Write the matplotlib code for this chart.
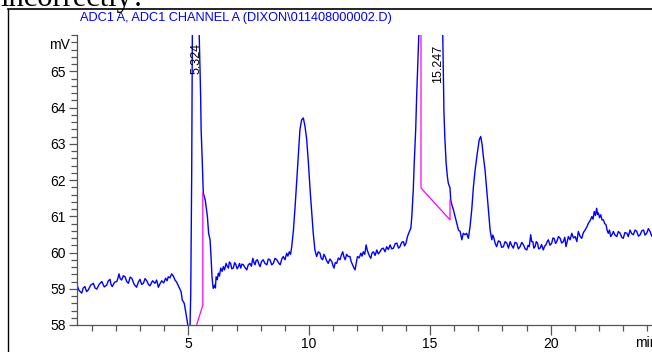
import matplotlib.pyplot as plt
from matplotlib.ticker import MultipleLocator
from matplotlib.lines import Line2D

# signal trace (minutes, mV), split by region
base_a_t = [0.38, 0.48, 0.59, 0.65, 0.72, 0.79, 0.86, 0.96, 1.07, 1.14, 1.21, 1.31, 1.42, 1.52,
            1.62, 1.69, 1.76, 1.80, 1.85, 1.95, 2.04, 2.09, 2.13, 2.18, 2.24, 2.31, 2.38, 2.45,
            2.52, 2.59, 2.66, 2.76, 2.86, 2.93, 3.00, 3.07, 3.14, 3.21, 3.28, 3.35, 3.41, 3.52,
            3.62, 3.69, 3.76, 3.83, 3.90, 3.98, 4.06, 4.12, 4.17, 4.24, 4.31, 4.38, 4.45, 4.52,
            4.59, 4.65, 4.70]
base_a_mv = [59.12, 58.95, 58.88, 59.02, 59.06, 58.92, 58.97, 59.10, 59.15, 59.02, 58.99, 59.12, 59.20, 59.05,
             59.10, 59.22, 59.26, 59.12, 59.06, 59.18, 59.20, 59.30, 59.41, 59.28, 59.24, 59.36, 59.33, 59.20,
             59.15, 59.32, 59.29, 59.12, 59.04, 59.18, 59.26, 59.12, 59.15, 59.28, 59.22, 59.12, 59.08, 59.22,
             59.15, 59.24, 59.04, 59.14, 59.22, 59.16, 59.29, 59.22, 59.33, 59.30, 59.41, 59.35, 59.24, 59.18,
             59.08, 59.00, 58.92]

peak_a_t = [4.75, 4.83, 4.89, 4.98, 5.03, 5.07, 5.10, 5.14, 5.17, 5.30, 5.44, 5.48, 5.51, 5.53,
            5.57, 5.60, 5.62, 5.70, 5.79, 5.84, 5.90, 5.94, 5.98, 6.03]
peak_a_mv = [58.69, 58.60, 58.37, 58.00, 57.85, 57.95, 58.85, 62.19, 66.50, 69.00, 66.30, 65.23, 64.31, 63.39,
             62.65, 62.00, 61.64, 61.45, 60.99, 60.53, 60.35, 59.89, 59.33, 59.01]

base_b_t = [6.09, 6.12, 6.15, 6.20, 6.24, 6.29, 6.34, 6.40, 6.45, 6.50, 6.56, 6.61, 6.66, 6.70,
            6.75, 6.80, 6.86, 6.92, 6.97, 7.02, 7.07, 7.12, 7.17, 7.22, 7.28, 7.35, 7.42, 7.48,
            7.55, 7.61, 7.67, 7.72, 7.76, 7.81, 7.86, 7.92, 7.97, 8.03, 8.10, 8.17, 8.25, 8.31,
            8.38, 8.45, 8.52, 8.59, 8.66, 8.73, 8.80, 8.87, 8.93, 9.00, 9.07, 9.12, 9.18, 9.23]
base_b_mv = [59.10, 59.02, 59.33, 59.25, 59.43, 59.35, 59.57, 59.48, 59.61, 59.52, 59.70, 59.62, 59.57, 59.74,
             59.70, 59.55, 59.57, 59.72, 59.66, 59.55, 59.61, 59.70, 59.57, 59.68, 59.66, 59.58, 59.52, 59.66,
             59.70, 59.62, 59.84, 59.72, 59.66, 59.78, 59.80, 59.68, 59.61, 59.75, 59.80, 59.70, 59.66, 59.82,
             59.80, 59.66, 59.70, 59.84, 59.80, 59.72, 59.66, 59.82, 59.89, 59.80, 59.98, 59.90, 60.02, 59.95]

peak_b_t = [9.28, 9.35, 9.42, 9.49, 9.55, 9.62, 9.69, 9.76, 9.83, 9.90, 9.97, 10.04, 10.11, 10.17, 10.24]
peak_b_mv = [60.16, 60.62, 61.27, 62.00, 62.65, 63.39, 63.66, 63.71, 63.48, 63.11, 62.47, 61.73, 61.09, 60.53, 60.07]

base_c_t = [10.31, 10.38, 10.45, 10.50, 10.56, 10.61, 10.66, 10.72, 10.79, 10.86, 10.94, 10.98, 11.03, 11.08,
            11.14, 11.21, 11.28, 11.33, 11.39, 11.44, 11.49, 11.55, 11.62, 11.69, 11.74, 11.80, 11.85, 11.90,
            11.95, 12.00, 12.07, 12.14, 12.19, 12.24, 12.30, 12.36, 12.40, 12.45, 12.50, 12.55, 12.60, 12.66,
            12.73, 12.80, 12.86, 12.93, 13.00, 13.07, 13.14, 13.21, 13.28, 13.35, 13.42, 13.49, 13.56, 13.63,
            13.70, 13.76, 13.83, 13.90, 13.95, 14.01]
base_c_mv = [59.89, 60.02, 59.98, 59.84, 59.80, 59.95, 59.89, 59.78, 59.70, 59.82, 59.75, 59.65, 59.57, 59.72,
             59.70, 59.85, 59.80, 59.92, 60.02, 59.88, 59.80, 59.95, 59.89, 59.89, 59.75, 59.66, 59.58, 59.52,
             59.70, 59.89, 59.85, 59.98, 59.90, 60.02, 59.95, 60.21, 60.08, 59.98, 59.90, 59.84, 59.98, 60.02,
             59.92, 60.07, 59.96, 60.02, 60.10, 60.12, 60.02, 60.16, 60.08, 60.21, 60.10, 60.12, 60.24, 60.26,
             60.12, 60.16, 60.28, 60.30, 60.18, 60.26]

peak_c_t = [14.07, 14.15, 14.21, 14.25, 14.31, 14.35, 14.41, 14.45, 14.50, 14.54, 14.70, 15.00, 15.35, 15.53,
            15.56, 15.58, 15.62, 15.67, 15.72, 15.76, 15.83, 15.86, 15.91, 15.97, 16.04, 16.11, 16.18, 16.25,
            16.32, 16.38, 16.45, 16.52, 16.59, 16.66, 16.73, 16.80, 16.87, 16.96, 17.04, 17.10, 17.16, 17.21,
            17.28, 17.35, 17.42, 17.49]
peak_c_mv = [60.44, 60.58, 60.67, 61.00, 61.73, 62.47, 63.39, 64.31, 65.23, 66.01, 68.50, 70.00, 68.50, 66.00,
             64.77, 63.85, 63.11, 62.47, 62.10, 61.91, 61.78, 61.45, 61.31, 61.18, 60.99, 60.81, 60.62, 60.58,
             60.35, 60.53, 60.49, 60.53, 60.39, 60.72, 61.18, 61.82, 62.28, 62.74, 63.11, 63.20, 62.97, 62.65,
             62.28, 61.73, 61.18, 60.62]

base_d_t = [17.56, 17.60, 17.65, 17.70, 17.76, 17.83, 17.90, 17.97, 18.04, 18.11, 18.18, 18.25, 18.32, 18.38,
            18.45, 18.52, 18.59, 18.66, 18.73, 18.80, 18.87, 18.94, 19.01, 19.06, 19.11, 19.17, 19.21, 19.26,
            19.30, 19.35, 19.40, 19.45, 19.50, 19.56, 19.62, 19.69, 19.75, 19.80, 19.85, 19.90, 19.97, 20.04,
            20.09, 20.14, 20.20, 20.25, 20.32, 20.39, 20.45, 20.52, 20.58, 20.63, 20.68, 20.73, 20.80, 20.87,
            20.94, 21.01, 21.08, 21.14, 21.21, 21.28, 21.35, 21.42, 21.49, 21.56, 21.63, 21.70, 21.75, 21.80,
            21.85, 21.90, 21.94, 21.97, 22.02, 22.07, 22.12, 22.18, 22.23, 22.29, 22.33, 22.38, 22.43, 22.48,
            22.54, 22.59, 22.66, 22.73, 22.80, 22.87, 22.94, 23.00, 23.07, 23.15, 23.21, 23.28, 23.35, 23.42,
            23.49, 23.56, 23.63, 23.70, 23.77, 23.84, 23.90, 23.97, 24.04, 24.11, 24.18, 24.25]
base_d_mv = [60.35, 60.48, 60.39, 60.25, 60.16, 60.32, 60.30, 60.14, 60.16, 60.30, 60.26, 60.12, 60.30, 60.20,
             60.12, 60.28, 60.26, 60.10, 60.16, 60.28, 60.21, 60.10, 60.07, 60.20, 60.16, 60.49, 60.30, 60.30,
             60.12, 60.16, 60.30, 60.26, 60.10, 60.12, 60.22, 60.07, 60.18, 60.21, 60.30, 60.35, 60.20, 60.26,
             60.40, 60.39, 60.25, 60.30, 60.44, 60.39, 60.26, 60.30, 60.42, 60.16, 60.30, 60.44, 60.35, 60.53,
             60.40, 60.44, 60.30, 60.58, 60.45, 60.39, 60.55, 60.62, 60.70, 60.81, 60.88, 60.99, 60.92, 61.13,
             61.02, 61.22, 61.05, 61.09, 60.96, 61.04, 60.90, 60.90, 60.80, 60.76, 60.62, 60.53, 60.62, 60.44,
             60.50, 60.58, 60.48, 60.44, 60.58, 60.53, 60.42, 60.39, 60.55, 60.53, 60.44, 60.62, 60.52, 60.49,
             60.62, 60.58, 60.45, 60.49, 60.60, 60.62, 60.48, 60.53, 60.66, 60.58, 60.45, 60.49]

# integration baselines + drop lines (magenta)
base1_t = [5.32, 5.60, 5.60]
base1_mv = [57.95, 58.55, 61.64]
base2_t = [14.63, 14.63, 15.83, 15.83]
base2_mv = [66.5, 61.78, 60.90, 61.45]

peak_rt = ["5.324", "15.247"]
label_t = [5.35, 15.34]
label_mv = [65.79, 65.73]

title = r"ADC1 A, ADC1 CHANNEL A (DIXON\011408000002.D)"

time_min = base_a_t + peak_a_t + base_b_t + peak_b_t + base_c_t + peak_c_t + base_d_t
signal_mv = base_a_mv + peak_a_mv + base_b_mv + peak_b_mv + base_c_mv + peak_c_mv + base_d_mv

plt.rcParams['font.family'] = ['Liberation Sans', 'DejaVu Sans']

fig = plt.figure(figsize=(6.52, 3.52), dpi=100)
W, H = 652, 352
ax = fig.add_axes([77 / W, (H - 325) / H, (W - 77) / W, 290 / H])

ax.plot(time_min, signal_mv, color='#0000ff', lw=1.0)
ax.plot(base1_t, base1_mv, color='#ff00ff', lw=0.9)
ax.plot(base2_t, base2_mv, color='#ff00ff', lw=0.9)

for lab, t, v in zip(peak_rt, label_t, label_mv):
    ax.text(t, v, lab, rotation=90, ha='center', va='top', fontsize=9, color='black')

ax.set_xlim(0.393, 24.19)
ax.set_ylim(58, 66)
ax.set_xticks([5, 10, 15, 20])
ax.xaxis.set_minor_locator(MultipleLocator(1))
ax.set_yticks([58, 59, 60, 61, 62, 63, 64, 65])
ax.yaxis.set_minor_locator(MultipleLocator(0.2))
ax.tick_params(which='major', length=7, width=0.9, color='#555555', labelsize=10, pad=2)
ax.tick_params(which='minor', length=4, width=0.9, color='#555555')
ax.tick_params(axis='y', which='major', length=6)
for s in ['top', 'right']:
    ax.spines[s].set_visible(False)
for s in ['left', 'bottom']:
    ax.spines[s].set_color('#555555')
    ax.spines[s].set_linewidth(0.9)

fig.text(70 / W, 1 - 45 / H, "mV", ha='right', va='center', fontsize=10)
fig.text(635 / W, 1 - 343 / H, "min", ha='left', va='center', fontsize=10)
fig.text(80 / W, 1 - 18 / H, title, ha='left', va='center', fontsize=9.2, color='#0000ff')

# frame of the screenshot and the cut-off question text above it
fig.add_artist(Line2D([8 / W, 1], [1 - 9 / H, 1 - 9 / H], color='black', lw=1.2))
fig.add_artist(Line2D([8 / W, 8 / W], [0, 1 - 9 / H], color='black', lw=1.0))
fig.text(0, 1 - 6 / H, "incorrectly?", ha='left', va='baseline', fontsize=22,
         family='Liberation Serif')

fig.savefig("out.png", dpi=100)
